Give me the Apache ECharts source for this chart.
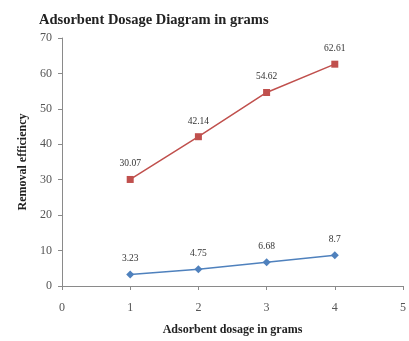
<!DOCTYPE html>
<html>
<head>
<meta charset="utf-8">
<script src="https://cdn.jsdelivr.net/npm/echarts@6/dist/echarts.min.js"></script>
<style>
  html, body { margin: 0; padding: 0; background: #fff; }
  #chart { width: 409px; height: 341px; }
</style>
</head>
<body>
<div id="chart"></div>
<script>
// dosage (g) and removal efficiency
var dosage = [1, 2, 3, 4];
var upperSeries = [30.07, 42.14, 54.62, 62.61];
var lowerSeries = [3.23, 4.75, 6.68, 8.7];

function pairs(ys) {
  return dosage.map(function (x, i) { return [x, ys[i]]; });
}

var chart = echarts.init(document.getElementById("chart"));
var font = "'Liberation Serif', 'DejaVu Serif', serif";

var option = {
  animation: false,
  textStyle: { fontFamily: font },
  title: {
    text: "Adsorbent Dosage Diagram in grams",
    left: 34,
    top: 8,
    textStyle: { fontFamily: font, fontSize: 14.5, fontWeight: "bold", color: "#222" }
  },
  grid: { left: 62, right: 6, top: 38, bottom: 53 },
  xAxis: {
    type: "value",
    min: 0,
    max: 5,
    interval: 1,
    name: "Adsorbent dosage in grams",
    nameLocation: "middle",
    nameGap: 38,
    nameTextStyle: { fontFamily: font, fontSize: 12, fontWeight: "bold", color: "#222" },
    axisLine: { lineStyle: { color: "#8a8a8a" } },
    axisTick: { show: true, length: 4, lineStyle: { color: "#8a8a8a" } },
    axisLabel: { fontFamily: font, fontSize: 12, color: "#555", margin: 16 },
    splitLine: { show: false }
  },
  yAxis: {
    type: "value",
    min: 0,
    max: 70,
    interval: 10,
    name: "Removal efficiency",
    nameLocation: "middle",
    nameGap: 33,
    nameTextStyle: { fontFamily: font, fontSize: 12, fontWeight: "bold", color: "#222" },
    axisLine: { show: true, lineStyle: { color: "#8a8a8a" } },
    axisTick: { show: true, length: 4, lineStyle: { color: "#8a8a8a" } },
    axisLabel: { fontFamily: font, fontSize: 12, color: "#555", margin: 10 },
    splitLine: { show: false }
  },
  series: [
    {
      type: "line",
      data: pairs(upperSeries),
      symbol: "rect",
      symbolSize: 7,
      lineStyle: { color: "#C0504D", width: 1.5 },
      itemStyle: { color: "#C0504D" },
      label: { show: true, position: "top", distance: 7, fontFamily: font, fontSize: 9.5, color: "#333" }
    },
    {
      type: "line",
      data: pairs(lowerSeries),
      symbol: "diamond",
      symbolSize: 8,
      lineStyle: { color: "#4F81BD", width: 1.5 },
      itemStyle: { color: "#4F81BD" },
      label: { show: true, position: "top", distance: 7, fontFamily: font, fontSize: 9.5, color: "#333" }
    }
  ]
};

chart.setOption(option);
</script>
</body>
</html>
